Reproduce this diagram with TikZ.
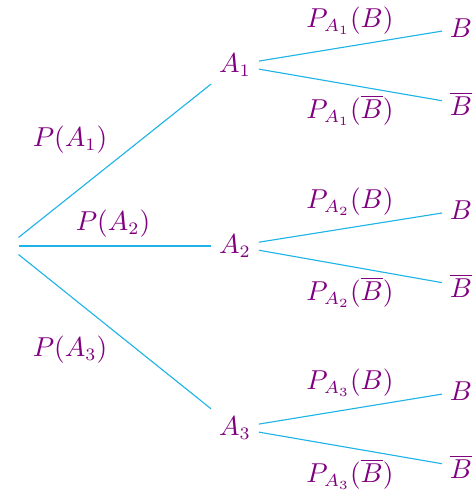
\documentclass[tikz,border=0pt]{standalone}
\usepackage{xcolor}
\usepackage{tikz}
\definecolor{treeline}{HTML}{1EB4E8}
\definecolor{treetext}{HTML}{800080}

\begin{document}
\begin{tikzpicture}[
  x=0.4pt, y=-0.4pt,
  event/.style={text=treetext, inner sep=3pt, font=\fontsize{10.5}{12}\selectfont},
  prob/.style={text=treetext, inner sep=1pt, font=\fontsize{10.5}{12}\selectfont},
  branch/.style={draw=treeline, line width=0.45pt}
]
  \useasboundingbox (0,0) rectangle (473,492);

  % Root
  \node[minimum width=4pt, minimum height=6.4pt, inner sep=0pt] (root) at (13,246) {};

  % First level
  \node[event] (a1) at (235,65) {$A_1$};
  \node[event] (a2) at (235,246) {$A_2$};
  \node[event] (a3) at (235,428) {$A_3$};

  % Second level
  \node[event] (b1) at (461,28) {$B$};
  \node[event] (nb1) at (461,104) {$\overline{B}$};
  \node[event] (b2) at (461,210) {$B$};
  \node[event] (nb2) at (461,286) {$\overline{B}$};
  \node[event] (b3) at (461,391) {$B$};
  \node[event] (nb3) at (461,467) {$\overline{B}$};

  \draw[branch] (root.north east) -- (a1);
  \draw[branch] (root.east) -- (a2);
  \draw[branch] (root.south east) -- (a3);
  \draw[branch] (a1) -- (b1);
  \draw[branch] (a1) -- (nb1);
  \draw[branch] (a2) -- (b2);
  \draw[branch] (a2) -- (nb2);
  \draw[branch] (a3) -- (b3);
  \draw[branch] (a3) -- (nb3);

  % Probabilities
  \node[prob] (pa1) at (70,140) {$P(A_1)$};
  \node[prob] (pa2) at (113,224) {$P(A_2)$};
  \node[prob] (pa3) at (70,350) {$P(A_3)$};
  \node[prob] (pb1) at (350,21) {$P_{A_1}(B)$};
  \node[prob] (pnb1) at (350,110) {$P_{A_1}(\overline{B})$};
  \node[prob] (pb2) at (350,202) {$P_{A_2}(B)$};
  \node[prob] (pnb2) at (350,292) {$P_{A_2}(\overline{B})$};
  \node[prob] (pb3) at (350,383) {$P_{A_3}(B)$};
  \node[prob] (pnb3) at (350,474) {$P_{A_3}(\overline{B})$};
\end{tikzpicture}
\end{document}
